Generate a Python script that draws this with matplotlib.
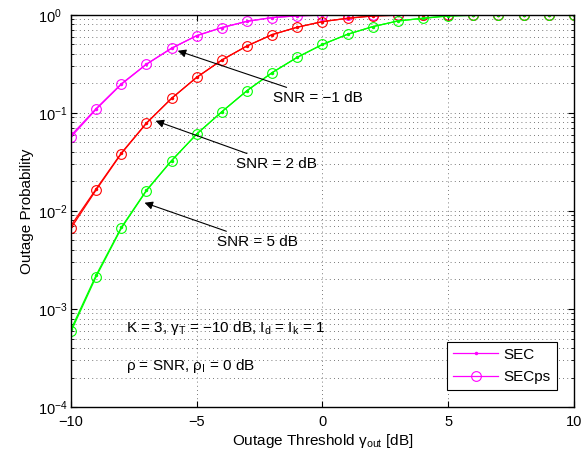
import matplotlib
matplotlib.use("Agg")
import matplotlib.pyplot as plt
import numpy as np

plt.rcParams.update({
    "font.family": "Liberation Sans",
    "mathtext.fontset": "custom",
    "mathtext.rm": "Liberation Sans",
    "mathtext.it": "Liberation Sans:italic",
    "mathtext.sf": "Liberation Sans",
    "font.size": 11,
    "axes.unicode_minus": True,
})

# ── Datos ───────────────────────────────────────────────────────────────────
gamma_out = [-10, -9, -8, -7, -6, -5, -4, -3, -2, -1, 0, 1, 2, 3, 4, 5, 6, 7, 8, 9, 10]

# SNR = -1 dB
sec_m1   = [0.059, 0.111, 0.198, 0.315, 0.458, 0.615, 0.743, 0.861, 0.94, 0.98, 0.995,
            0.999, 1.0, 1.0, 1.0, 1.0, 1.0, 1.0, 1.0, 1.0, 1.0]
secps_m1 = [0.057, 0.109, 0.196, 0.314, 0.457, 0.615, 0.743, 0.861, 0.94, 0.98, 0.995,
            0.999, 1.0, 1.0, 1.0, 1.0, 1.0, 1.0, 1.0, 1.0, 1.0]
# SNR = 2 dB
sec_2    = [0.0071, 0.0168, 0.0390, 0.079, 0.141, 0.231, 0.347, 0.483, 0.63, 0.75, 0.855,
            0.925, 0.977, 0.993, 0.999, 1.0, 1.0, 1.0, 1.0, 1.0, 1.0]
secps_2  = [0.0067, 0.0164, 0.0385, 0.0785, 0.141, 0.231, 0.347, 0.483, 0.63, 0.75, 0.855,
            0.925, 0.977, 0.993, 0.999, 1.0, 1.0, 1.0, 1.0, 1.0, 1.0]
# SNR = 5 dB
sec_5    = [0.00062, 0.00222, 0.0068, 0.0163, 0.0327, 0.061, 0.103, 0.169, 0.258, 0.37, 0.50,
            0.635, 0.76, 0.868, 0.925, 0.977, 0.992, 0.998, 1.0, 1.0, 1.0]
secps_5  = [0.00059, 0.00214, 0.00666, 0.0161, 0.0326, 0.061, 0.103, 0.169, 0.258, 0.37, 0.50,
            0.635, 0.76, 0.868, 0.925, 0.977, 0.992, 0.998, 1.0, 1.0, 1.0]

y_ticks = [1e-4, 1e-3, 1e-2, 1e-1, 1]
y_ticklabels = [r"10$^{\mathregular{-4}}$", r"10$^{\mathregular{-3}}$", r"10$^{\mathregular{-2}}$",
                r"10$^{\mathregular{-1}}$", r"10$^{\mathregular{0}}$"]
x_ticks = [-10, -5, 0, 5, 10]
x_ticklabels = ["\u221210", "\u22125", "0", "5", "10"]

colors = ["#ff00ff", "#ff0000", "#00ff00"]
series = [(sec_m1, secps_m1), (sec_2, secps_2), (sec_5, secps_5)]

# ── Grafica ──────────────────────────────────────────────────────────────────
fig = plt.figure(figsize=(5.85, 4.53), dpi=100)
ax = fig.add_axes([0.1214, 0.1015, 0.8596, 0.8655])

for i, ((sec, secps), c) in enumerate(zip(series, colors)):
    ax.plot(gamma_out, sec, "-", marker=".", color=c, lw=0.9, ms=3,
            label="SEC" if i == 0 else None)
    ax.plot(gamma_out, secps, "-", marker="o", color=c, lw=0.9, ms=7,
            mfc="none", mew=0.8, label="SECps" if i == 0 else None)

ax.set_yscale("log")
ax.set_xlim(-10, 10)
ax.set_ylim(1e-4, 1)
ax.set_xticks(x_ticks)
ax.set_xticklabels(x_ticklabels, fontsize=10.5)
ax.set_yticks(y_ticks)
ax.set_yticklabels(y_ticklabels, fontsize=10.5, ha="left")

grid_ls = (0, (1, 4))
ax.grid(True, which="major", ls=grid_ls, color="0.3", lw=0.6)
ax.grid(True, which="minor", axis="y", ls=grid_ls, color="0.3", lw=0.6)
ax.tick_params(which="both", direction="in", top=True, right=True)
ax.tick_params(which="major", length=4)
ax.tick_params(which="minor", length=2)
ax.tick_params(axis="x", pad=6)
ax.tick_params(axis="y", pad=24)
for s in ax.spines.values():
    s.set_linewidth(1.0)

ax.set_xlabel("Outage Threshold \u03b3$_{\\mathregular{out}}$ [dB]", labelpad=2)
ax.set_ylabel("Outage Probability", labelpad=3)

arrow = dict(arrowstyle="-|>", color="black", lw=0.8, mutation_scale=12)
ax.annotate("SNR = \u22121 dB", xy=(-5.86, 0.44), xytext=(-1.95, 0.142),
            va="center", ha="left", arrowprops=arrow)
ax.annotate("SNR = 2 dB", xy=(-6.74, 0.085), xytext=(-3.42, 0.030),
            va="center", ha="left", arrowprops=arrow)
ax.annotate("SNR = 5 dB", xy=(-7.18, 0.0124), xytext=(-4.21, 0.00483),
            va="center", ha="left", arrowprops=arrow)

ax.text(-7.8, 6.4e-4,
        "K = 3, \u03b3$_{\\mathregular{T}}$ = \u221210 dB, I$_{\\mathregular{d}}$ = I$_{\\mathregular{k}}$ = 1",
        va="center", ha="left")
ax.text(-7.8, 2.6e-4, "\u03c1 = SNR, \u03c1$_{\\mathregular{I}}$ = 0 dB", va="center", ha="left")

leg = ax.legend(loc="lower right", fancybox=False, edgecolor="black",
                framealpha=1, borderaxespad=1.1, handlelength=3.0,
                handletextpad=0.35, labelspacing=0.55)
leg.get_frame().set_linewidth(0.8)

fig.savefig("out.png", dpi=100)
